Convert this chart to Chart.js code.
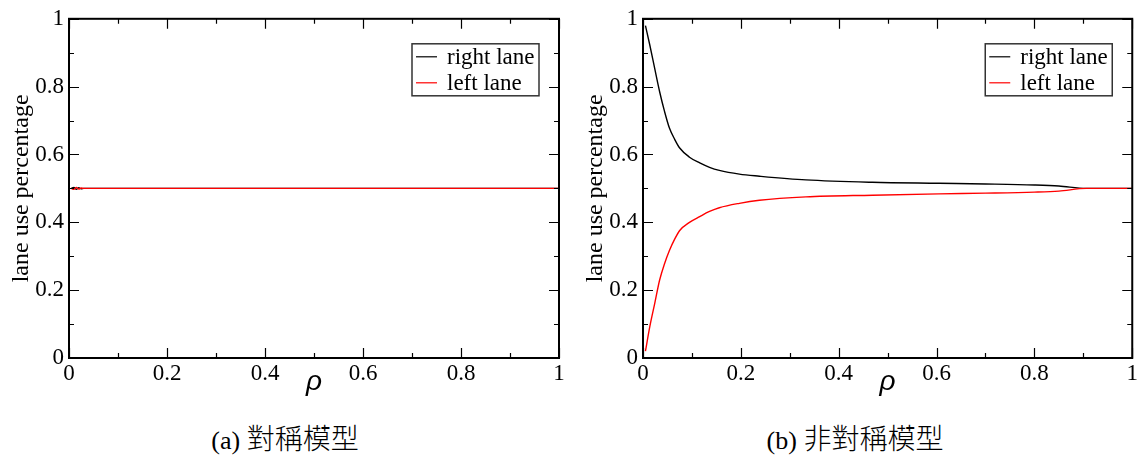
<!DOCTYPE html>
<html>
<head>
<meta charset="utf-8">
<script src="https://cdn.jsdelivr.net/npm/chart.js@4"></script>
<style>
  body { margin: 0; background: #fff; width: 1140px; height: 455px; position: relative; overflow: hidden; }
  .panel { position: absolute; top: 0; width: 570px; height: 400px; }
  .cap { position: absolute; top: 420px; width: 570px; line-height: 34px; text-align: center;
         font-size: 26px; color: #000;
         font-family: "Liberation Serif", Tinos, "Nimbus Roman", FreeSerif, "DejaVu Serif", "Noto Sans CJK TC", serif; }
  .cap .cjk { font-family: "Noto Sans CJK TC", sans-serif; font-size: 28px; font-weight: 300; }
</style>
</head>
<body>
<div class="panel" style="left:0"><canvas id="symChart" width="570" height="400"></canvas></div>
<div class="panel" style="left:570px"><canvas id="asymChart" width="570" height="400"></canvas></div>
<div class="cap" style="left:0">(a) <span class="cjk">對稱模型</span></div>
<div class="cap" style="left:570px">(b) <span class="cjk">非對稱模型</span></div>

<script>
// ── Data ──

// (a) symmetric model: both lanes sit at 0.5, tiny wiggle at the very start
const rhoSym = [0.005, 0.01, 0.015, 0.02, 0.025, 0.03, 0.5, 1.0]
const rightSym = [0.5, 0.503, 0.497, 0.502, 0.499, 0.5, 0.5, 0.5]
const leftSym = [0.5, 0.497, 0.503, 0.498, 0.501, 0.5, 0.5, 0.5]

// (b) asymmetric model
const rhoAsym = [0.005, 0.014, 0.024, 0.034, 0.044, 0.054, 0.065, 0.075, 0.095, 0.116, 0.136, 0.156,
  0.197, 0.238, 0.333, 0.469, 0.605, 0.7, 0.8, 0.85, 0.906, 0.95, 1.0]
const rightAsym = [0.980, 0.922, 0.853, 0.785, 0.727, 0.678, 0.644, 0.619, 0.592, 0.575, 0.562, 0.553,
  0.542, 0.536, 0.525, 0.518, 0.515, 0.513, 0.510, 0.507, 0.500, 0.500, 0.500]
const leftAsym = [0.020, 0.093, 0.161, 0.230, 0.278, 0.317, 0.351, 0.376, 0.400, 0.417, 0.432, 0.443,
  0.456, 0.465, 0.475, 0.480, 0.484, 0.486, 0.489, 0.492, 0.500, 0.500, 0.500]

const seriesNames = ['right lane', 'left lane']
const seriesColors = ['#000000', '#ff0000']

const xTicks = [0, 0.2, 0.4, 0.6, 0.8, 1]
const yTicks = [0, 0.2, 0.4, 0.6, 0.8, 1]
const minorTicks = [0.1, 0.3, 0.5, 0.7, 0.9]

const SERIF = '"Liberation Serif", Tinos, "Nimbus Roman", FreeSerif, "DejaVu Serif", serif'

// ── Frame, inward ticks on all four sides, boxed legend ──

const framePlugin = {
  id: 'frame',
  afterDraw(chart) {
    const { ctx, chartArea: a, scales: { x, y } } = chart
    ctx.save()
    ctx.strokeStyle = '#000'
    ctx.lineWidth = 1.2

    const drawTicks = (vals, len) => {
      vals.forEach(v => {
        const px = Math.round(x.getPixelForValue(v)) + 0.5
        const py = Math.round(y.getPixelForValue(v)) + 0.5
        ctx.beginPath()
        ctx.moveTo(px, a.bottom); ctx.lineTo(px, a.bottom - len)
        ctx.moveTo(px, a.top); ctx.lineTo(px, a.top + len)
        ctx.moveTo(a.left, py); ctx.lineTo(a.left + len, py)
        ctx.moveTo(a.right, py); ctx.lineTo(a.right - len, py)
        ctx.stroke()
      })
    }
    drawTicks(xTicks, 10)
    drawTicks(minorTicks, 5)

    ctx.lineWidth = 2
    ctx.strokeRect(a.left, a.top, a.right - a.left, a.bottom - a.top)

    // legend
    const bw = 127, bh = 52
    const bx = a.right - 20 - bw, by = a.top + 25
    ctx.fillStyle = '#fff'
    ctx.fillRect(bx, by, bw, bh)
    ctx.lineWidth = 1.5
    ctx.strokeStyle = '#333'
    ctx.strokeRect(bx, by, bw, bh)
    ctx.font = '23px ' + SERIF
    ctx.textBaseline = 'middle'
    seriesNames.forEach((name, i) => {
      const ly = by + 13 + i * 26
      ctx.strokeStyle = seriesColors[i]
      ctx.lineWidth = 1.2
      ctx.beginPath()
      ctx.moveTo(bx + 4, ly); ctx.lineTo(bx + 25, ly)
      ctx.stroke()
      ctx.fillStyle = '#000'
      ctx.fillText(name, bx + 35, ly + 1)
    })
    ctx.restore()
  }
}

function makeChart(id, rho, right, left, axisWidth, padRight) {
  const toPts = vals => rho.map((r, i) => ({ x: r, y: vals[i] }))
  return new Chart(document.getElementById(id), {
    type: 'line',
    data: {
      datasets: [
        { label: seriesNames[0], data: toPts(right), borderColor: seriesColors[0], order: 1 },
        { label: seriesNames[1], data: toPts(left), borderColor: seriesColors[1], order: 0 },
      ],
    },
    options: {
      responsive: false,
      animation: false,
      layout: { padding: { top: 16, right: padRight, left: 0, bottom: 0 } },
      elements: {
        point: { radius: 0 },
        line: { borderWidth: 1.4, cubicInterpolationMode: 'monotone', fill: false },
      },
      plugins: { legend: { display: false }, tooltip: { enabled: false } },
      scales: {
        x: {
          type: 'linear', min: 0, max: 1,
          afterBuildTicks: s => { s.ticks = xTicks.map(v => ({ value: v })) },
          afterFit: s => { s.height = 42 },
          grid: { display: false, drawTicks: false },
          border: { display: false },
          ticks: { padding: 2, color: '#000', font: { family: SERIF, size: 23 }, maxRotation: 0,
            callback: v => String(+v.toFixed(1)) },
          title: { display: true, text: 'ρ', color: '#000', padding: { top: 0, bottom: 1 },
            font: { family: '"Liberation Sans", sans-serif', size: 28, style: 'italic' } },
        },
        y: {
          type: 'linear', min: 0, max: 1,
          afterBuildTicks: s => { s.ticks = yTicks.map(v => ({ value: v })) },
          afterFit: s => { s.width = axisWidth },
          grid: { display: false, drawTicks: false },
          border: { display: false },
          ticks: { padding: 5, color: '#000', font: { family: SERIF, size: 23 },
            callback: v => String(+v.toFixed(1)) },
          title: { display: true, text: 'lane use percentage', color: '#000',
            padding: { top: 7 + axisWidth - 69, bottom: 0 },
            font: { family: SERIF, size: 24 } },
        },
      },
    },
    plugins: [framePlugin],
  })
}

document.fonts.ready.then(() => {
  makeChart('symChart', rhoSym, rightSym, leftSym, 69, 11)
  makeChart('asymChart', rhoAsym, rightAsym, leftAsym, 73, 7)
})
</script>
</body>
</html>
